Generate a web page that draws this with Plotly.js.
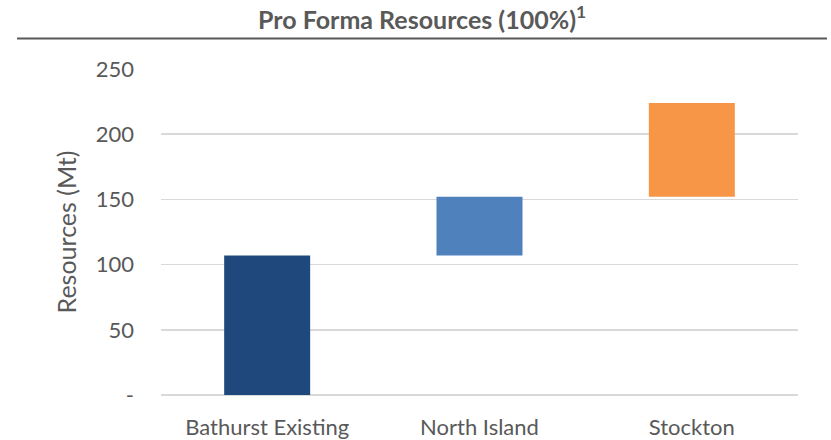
<!DOCTYPE html>
<html>
<head>
<meta charset="utf-8">
<script src="https://cdn.plot.ly/plotly-3.0.1.min.js"></script>
<style>html,body{margin:0;padding:0;background:#fff}#chart{width:831px;height:440px}</style>
</head>
<body>
<div id="chart"></div>
<script>
const categories = ["Bathurst Existing", "North Island", "Stockton"];
const increments = [107, 45, 72];
const colors = ["#1f497d", "#4f81bd", "#f79646"];
const yTickVals = [0, 50, 100, 150, 200, 250];
const yTickText = ["-", "50", "100", "150", "200", "250"];

const bases = [];
let run = 0;
for (const v of increments) { bases.push(run); run += v; }

const trace = {
  type: "bar",
  x: categories,
  y: increments,
  base: bases,
  marker: {color: colors},
  width: 0.405,
  hoverinfo: "x+y"
};

const font = "Lato, 'Open Sans', sans-serif";
const layout = {
  width: 831, height: 440,
  margin: {l: 161, r: 33, t: 69, b: 45},
  paper_bgcolor: "#fff", plot_bgcolor: "#fff",
  font: {family: font, color: "#595959", size: 22},
  showlegend: false,
  title: {text: "<b>Pro Forma Resources (100%)<sup>1</sup></b>", x: 0.508, xanchor: "center", y: 0.955, yanchor: "middle",
          font: {family: font, size: 25, color: "#595959"}},
  xaxis: {type: "category", showgrid: false, showline: false, ticks: "", tickfont: {size: 22}, fixedrange: true,
          ticklabelstandoff: 17, automargin: false},
  yaxis: {range: [0, 250], tickvals: yTickVals, ticktext: yTickText, showgrid: true, gridcolor: "#d9d9d9", gridwidth: 1.5,
          zeroline: true, zerolinecolor: "#d9d9d9", zerolinewidth: 1.5, showline: false, ticks: "", ticklen: 0,
          tickfont: {size: 22}, fixedrange: true, ticklabelstandoff: 26, automargin: false,
          title: {text: "Resources (Mt)", font: {size: 25, color: "#595959"}, standoff: 11}},
  shapes: [{type: "line", xref: "paper", yref: "paper", x0: -0.226, x1: 1.0455, y0: 1.0936, y1: 1.0936,
            line: {color: "#595959", width: 2}}],
  bargap: 0.6
};
Plotly.newPlot("chart", [trace], layout, {displayModeBar: false, staticPlot: true});
</script>
</body>
</html>
